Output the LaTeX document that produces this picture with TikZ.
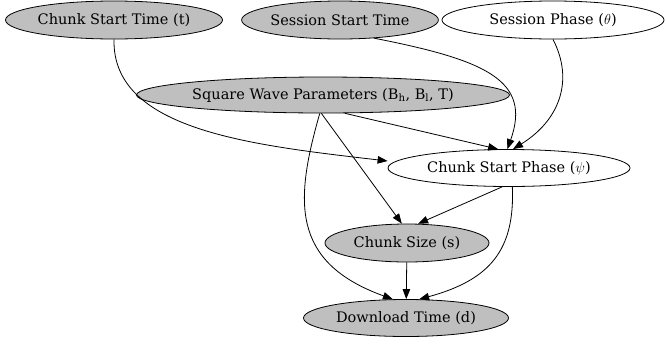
\documentclass[tikz,border=0pt]{standalone}
\usepackage{fontspec}
\setmainfont{DejaVu Serif}
\usetikzlibrary{arrows.meta}
\usetikzlibrary{shapes.geometric}

\begin{document}
\begin{tikzpicture}[x=1pt, y=-1pt, line width=0.8pt,
    var/.style={ellipse, draw, inner sep=0pt, font=\fontsize{14.5}{16}\selectfont},
    obs/.style={var, fill=gray!50},
    edge/.style={-{Triangle[length=10pt, width=7.5pt]}}]
      \useasboundingbox (0,0) rectangle (666,346);

      \node[obs, minimum width=217pt, minimum height=38pt] (t) at (114,20) {Chunk Start Time (t)};
      \node[obs, minimum width=175pt, minimum height=38pt] (sst) at (340,20) {Session Start Time};
      \node[var, minimum width=222pt, minimum height=38pt] (theta) at (553,20) {Session Phase ($\theta$)};
      \node[obs, minimum width=373pt, minimum height=36pt] (sw) at (323,95) {Square Wave Parameters (B\textsubscript{h}, B\textsubscript{l}, T)};
      \node[var, minimum width=242pt, minimum height=37pt] (psi) at (509,168) {Chunk Start Phase ($\psi$)};
      \node[obs, minimum width=164pt, minimum height=38pt] (s) at (407,243) {Chunk Size (s)};
      \node[obs, minimum width=205pt, minimum height=37pt] (d) at (406,318) {Download Time (d)};

      \draw[edge] (t.south) .. controls (112,130) and (250,145) .. (psi.west |- 0,161) ;
      \draw[edge] (sst.-28) .. controls (485,60) and (532,80) .. (psi.95);
      \draw[edge] (theta.south) .. controls (574,80) and (560,120) .. (psi.78);
      \draw[edge] (sw.-40) -- (psi.120);
      \draw[edge] (sw.-95) -- (s.105);
      \draw[edge] (sw.-100) .. controls (295,200) and (290,262) .. (d.125);
      \draw[edge] (psi.-110) -- (s.60);
      \draw[edge] (psi.-80) .. controls (515,250) and (490,280) .. (d.55);
      \draw[edge] (s) -- (d);
    \end{tikzpicture}
\end{document}
